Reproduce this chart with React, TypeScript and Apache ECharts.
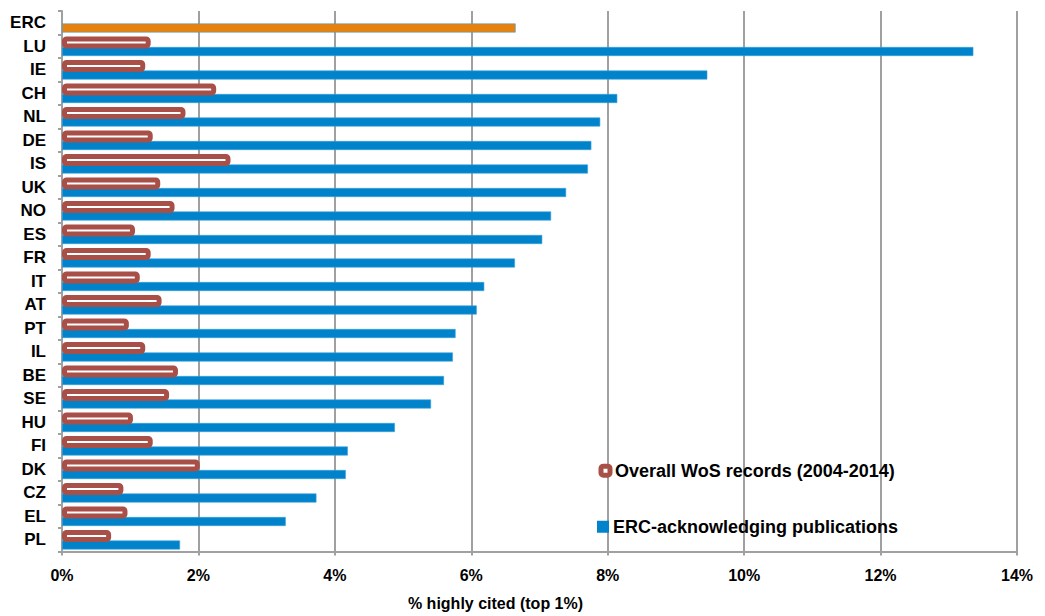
import React, { useEffect, useRef } from "react";
import * as echarts from "echarts";

const categories = ["ERC", "LU", "IE", "CH", "NL", "DE", "IS", "UK", "NO", "ES", "FR", "IT", "AT", "PT", "IL", "BE", "SE", "HU", "FI", "DK", "CZ", "EL", "PL"];
const overallWoS: (number | null)[] = [null, 1.30, 1.22, 2.26, 1.81, 1.33, 2.47, 1.44, 1.65, 1.07, 1.30, 1.14, 1.46, 0.98, 1.22, 1.70, 1.57, 1.04, 1.33, 2.02, 0.90, 0.96, 0.72];
const ercAcknowledging = [6.65, 13.36, 9.46, 8.14, 7.89, 7.76, 7.71, 7.39, 7.17, 7.04, 6.64, 6.19, 6.08, 5.77, 5.73, 5.60, 5.41, 4.88, 4.19, 4.16, 3.73, 3.28, 1.73];
const xTicks = { min: 0, max: 14, interval: 2 };

const SERIES_WOS = "Overall WoS records (2004-2014)";
const SERIES_ERC = "ERC-acknowledging publications";

const BROWN = "#A84F48";
const BLUE = "#0083CB";
const ORANGE = "#E8820C";
const GRID = "#A0A0A0";
const FONT = "'Liberation Sans', Arial, sans-serif";

export default function App() {
  const ref = useRef<HTMLDivElement>(null);
  useEffect(() => {
    if (!ref.current) return;
    const chart = echarts.init(ref.current, null, { renderer: "svg" });
    chart.setOption({
      animation: false,
      textStyle: { fontFamily: FONT },
      grid: { left: 62, right: 28, top: 11, bottom: 51, containLabel: false },
      legend: [
        {
          left: 598.5,
          top: 461.7,
          padding: 0,
          icon: "roundRect",
          itemWidth: 9,
          itemHeight: 9,
          selectedMode: false,
          textStyle: { fontSize: 18, fontWeight: "bold", color: "#000", fontFamily: FONT },
          data: [{ name: SERIES_WOS, itemStyle: { color: "#fff", borderColor: BROWN, borderWidth: 5 } }],
        },
        {
          left: 597,
          top: 517.7,
          padding: 0,
          icon: "rect",
          itemWidth: 10,
          itemHeight: 10,
          selectedMode: false,
          textStyle: { fontSize: 18, fontWeight: "bold", color: "#000", fontFamily: FONT },
          data: [{ name: SERIES_ERC, itemStyle: { color: BLUE, borderColor: BLUE, borderWidth: 2 } }],
        },
      ],
      xAxis: {
        type: "value",
        min: xTicks.min,
        max: xTicks.max,
        interval: xTicks.interval,
        name: "% highly cited (top 1%)",
        nameLocation: "middle",
        nameGap: 43.5,
        nameTextStyle: { fontSize: 16, fontWeight: "bold", color: "#000", fontFamily: FONT, padding: [0, 88, 0, 0] },
        axisLine: { show: true, lineStyle: { color: GRID, width: 2 } },
        axisTick: { show: true, length: 4, lineStyle: { color: GRID, width: 2 } },
        axisLabel: { formatter: "{value}%", fontSize: 16, fontWeight: "bold", color: "#000", margin: 15.5, fontFamily: FONT },
        splitLine: { show: true, lineStyle: { color: GRID, width: 2 } },
      },
      yAxis: {
        type: "category",
        inverse: true,
        data: categories,
        axisLine: { show: true, lineStyle: { color: GRID, width: 2 } },
        axisTick: { show: true, length: 4, lineStyle: { color: GRID, width: 2 } },
        axisLabel: { fontSize: 17, fontWeight: "bold", color: "#000", margin: 16, fontFamily: FONT },
        splitLine: { show: false },
      },
      series: [
        {
          name: SERIES_WOS,
          type: "bar",
          data: overallWoS,
          barWidth: 12,
          barGap: "-12.5%",
          z: 3,
          itemStyle: { color: "#fff", borderColor: BROWN, borderWidth: 5, borderRadius: 2 },
        },
        {
          name: SERIES_ERC,
          type: "bar",
          data: ercAcknowledging.map((v, i) => (categories[i] === "ERC" ? { value: v, itemStyle: { color: ORANGE } } : v)),
          barWidth: 9,
          z: 2,
          itemStyle: { color: BLUE, borderColor: "#3AA0DA", borderWidth: 0.6 },
        },
      ],
    });
    return () => chart.dispose();
  }, []);
  return <div ref={ref} style={{ position: "absolute", left: 0, top: 0, width: 1045, height: 616 }} />;
}
